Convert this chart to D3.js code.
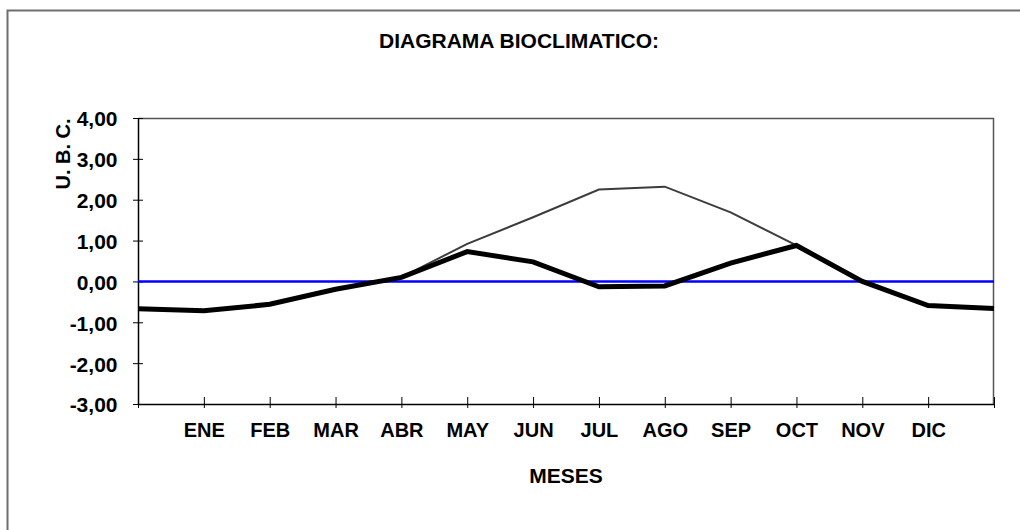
<!DOCTYPE html>
<html>
<head>
<meta charset="utf-8">
<script src="https://cdn.jsdelivr.net/npm/d3@7"></script>
<style>
  html, body { margin: 0; padding: 0; background: #fff; }
  svg { display: block; font-family: "Liberation Sans", Arial, sans-serif; }
</style>
</head>
<body>
<svg id="chart" width="1020" height="530"></svg>
<script>
// ---- Data ----
const monthLabels = ["", "ENE", "FEB", "MAR", "ABR", "MAY", "JUN", "JUL", "AGO", "SEP", "OCT", "NOV", "DIC", ""];
const ubcReal = [-0.67, -0.72, -0.56, -0.19, 0.10, 0.73, 0.48, -0.13, -0.11, 0.45, 0.88, 0.00, -0.59, -0.66];
const ubcPotential = [-0.67, -0.72, -0.56, -0.19, 0.10, 0.92, 1.57, 2.25, 2.32, 1.69, 0.88, 0.00, -0.59, -0.66];
const yTicks = [-3, -2, -1, 0, 1, 2, 3, 4];
const titleText = "DIAGRAMA BIOCLIMATICO:";
const xTitle = "MESES";
const yTitle = "U. B. C.";

// ---- Layout ----
const svg = d3.select("#chart");
const pLeft = 138, pRight = 994, pTop = 118, pBottom = 404;

const idx = d3.range(monthLabels.length);
const x = d3.scalePoint().domain(idx).range([pLeft, pRight]);
const y = d3.scaleLinear().domain([-3, 4]).range([pBottom, pTop]);

// outer border
svg.append("rect")
  .attr("x", 7.5).attr("y", 10.5)
  .attr("width", 1030).attr("height", 540)
  .attr("fill", "none").attr("stroke", "#6e6e6e").attr("stroke-width", 2);

// title
svg.append("text")
  .attr("x", 519).attr("y", 48)
  .attr("text-anchor", "middle")
  .attr("font-size", 21).attr("font-weight", "bold")
  .text(titleText);

// plot frame (top/right gray)
svg.append("path")
  .attr("d", `M${pLeft},${pTop + 0.5}H${pRight - 0.5}V${pBottom}`)
  .attr("fill", "none").attr("stroke", "#555").attr("stroke-width", 1.5);

// y axis
const fmt = d => d3.format(".2f")(d).replace(".", ",").replace("\u2212", "-");
const yAxis = svg.append("g")
  .attr("transform", `translate(${pLeft},0)`)
  .call(d3.axisLeft(y).tickValues(yTicks).tickSize(0).tickFormat(fmt));
yAxis.select(".domain").attr("stroke", "#000").attr("stroke-width", 1.5);
yAxis.selectAll(".tick line").remove();
yAxis.selectAll(".tick text")
  .attr("x", -20.5)
  .attr("dy", "0.38em")
  .attr("font-size", 21).attr("font-weight", "bold")
  .attr("font-family", "Liberation Sans, Arial, sans-serif")
  .attr("fill", "#000");
yAxis.selectAll(".tick").append("line")
  .attr("x1", -5).attr("x2", 5).attr("stroke", "#000").attr("stroke-width", 1);

// x axis
const xAxis = svg.append("g")
  .attr("transform", `translate(0,${pBottom})`)
  .call(d3.axisBottom(x).tickSize(0).tickFormat(d => monthLabels[d]));
xAxis.select(".domain").attr("stroke", "#000").attr("stroke-width", 1.5);
xAxis.selectAll(".tick line").remove();
xAxis.selectAll(".tick text")
  .attr("y", 33).attr("dy", null)
  .attr("font-size", 20).attr("font-weight", "bold")
  .attr("font-family", "Liberation Sans, Arial, sans-serif")
  .attr("fill", "#000");
xAxis.selectAll(".tick").append("line")
  .attr("y1", -7).attr("y2", 4).attr("stroke", "#000").attr("stroke-width", 1);

// axis titles
svg.append("text")
  .attr("x", (pLeft + pRight) / 2).attr("y", 483)
  .attr("text-anchor", "middle")
  .attr("font-size", 21).attr("font-weight", "bold")
  .text(xTitle);
svg.append("text")
  .attr("transform", `translate(70,154) rotate(-90)`)
  .attr("text-anchor", "middle")
  .attr("font-size", 20).attr("font-weight", "bold")
  .text(yTitle);

// zero line
svg.append("line")
  .attr("x1", pLeft).attr("x2", pRight)
  .attr("y1", y(0)).attr("y2", y(0))
  .attr("stroke", "#0000ff").attr("stroke-width", 2.5);

const line = d3.line().x((d, i) => x(i)).y(d => y(d));

svg.append("path")
  .datum(ubcPotential)
  .attr("d", line)
  .attr("fill", "none").attr("stroke", "#3c3c3c").attr("stroke-width", 2);

svg.append("path")
  .datum(ubcReal)
  .attr("d", line)
  .attr("fill", "none").attr("stroke", "#000").attr("stroke-width", 5)
  .attr("stroke-linejoin", "miter");
</script>
</body>
</html>
